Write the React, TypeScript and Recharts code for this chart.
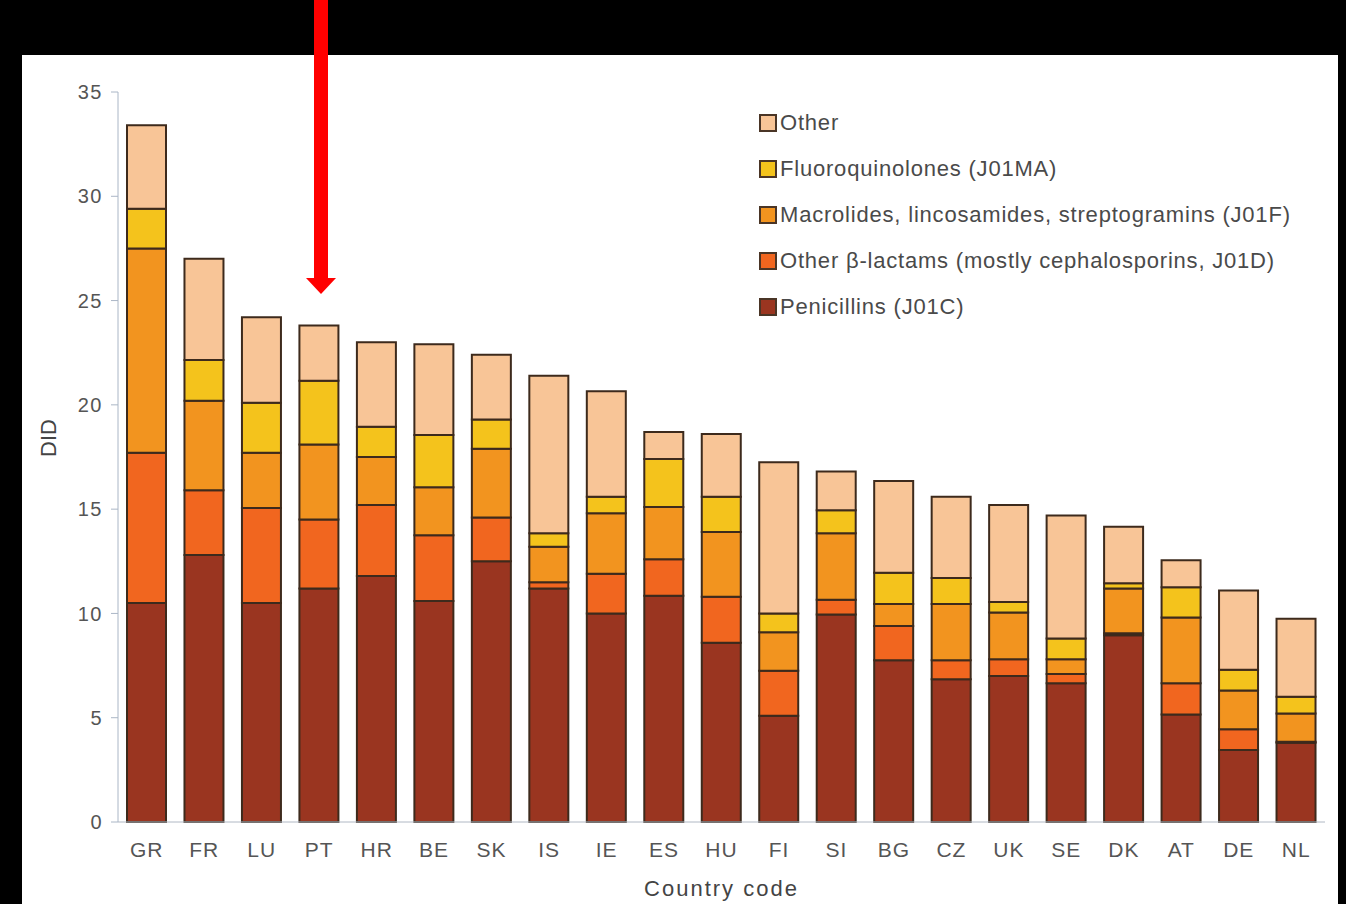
import React from 'react';
import { BarChart, Bar, XAxis, YAxis, Legend } from 'recharts';

const countries = ['GR', 'FR', 'LU', 'PT', 'HR', 'BE', 'SK', 'IS', 'IE', 'ES', 'HU', 'FI', 'SI', 'BG', 'CZ', 'UK', 'SE', 'DK', 'AT', 'DE', 'NL'];
const penicillins = [10.5, 12.8, 10.5, 11.2, 11.8, 10.6, 12.5, 11.2, 10.0, 10.85, 8.6, 5.1, 9.95, 7.75, 6.85, 7.0, 6.65, 8.95, 5.15, 3.45, 3.8];
const otherBetaLactams = [7.2, 3.1, 4.55, 3.3, 3.4, 3.15, 2.1, 0.3, 1.9, 1.75, 2.2, 2.15, 0.7, 1.65, 0.9, 0.8, 0.45, 0.1, 1.5, 1.0, 0.05];
const macrolides = [9.8, 4.3, 2.65, 3.6, 2.3, 2.3, 3.3, 1.7, 2.9, 2.5, 3.1, 1.85, 3.2, 1.05, 2.7, 2.25, 0.7, 2.15, 3.15, 1.85, 1.35];
const fluoroquinolones = [1.9, 1.95, 2.4, 3.05, 1.45, 2.5, 1.4, 0.65, 0.8, 2.3, 1.7, 0.9, 1.1, 1.5, 1.25, 0.5, 1.0, 0.25, 1.45, 1.0, 0.8];
const other = [4.0, 4.85, 4.1, 2.65, 4.05, 4.35, 3.1, 7.55, 5.05, 1.3, 3.0, 7.25, 1.85, 4.4, 3.9, 4.65, 5.9, 2.7, 1.3, 3.8, 3.75];
const yTicks = [0, 5, 10, 15, 20, 25, 30, 35];

const data = countries.map((c, i) => ({
  country: c,
  pen: penicillins[i],
  beta: otherBetaLactams[i],
  mac: macrolides[i],
  fq: fluoroquinolones[i],
  other: other[i],
}));

const series = [
  { key: 'pen', name: 'Penicillins (J01C)', color: '#9a3520' },
  { key: 'beta', name: 'Other \u03b2-lactams (mostly cephalosporins, J01D)', color: '#f1661f' },
  { key: 'mac', name: 'Macrolides, lincosamides, streptogramins (J01F)', color: '#f2941f' },
  { key: 'fq', name: 'Fluoroquinolones (J01MA)', color: '#f4c31c' },
  { key: 'other', name: 'Other', color: '#f8c597' },
];

const font = '"Liberation Sans", Arial, sans-serif';

const LegendBox = () => (
  <div style={{ fontFamily: font, fontSize: 22, color: '#4a4a4a', letterSpacing: 0.8, whiteSpace: 'nowrap' }}>
    {[...series].reverse().map((s) => (
      <div key={s.key} style={{ display: 'flex', alignItems: 'center', height: 46 }}>
        <span
          style={{
            display: 'inline-block',
            width: 14,
            height: 14,
            background: s.color,
            border: '2px solid #4a3526',
            marginRight: 3,
          }}
        />
        {s.name}
      </div>
    ))}
  </div>
);

export default function App() {
  return (
    <div style={{ position: 'absolute', left: 0, top: 0, width: 1346, height: 904, background: '#000', overflow: 'hidden' }}>
      <div style={{ position: 'absolute', left: 22, top: 55, width: 1316, height: 860, background: '#fff' }} />
      <div style={{ position: 'absolute', left: 0, top: 0 }}>
        <BarChart width={1346} height={904} data={data} margin={{ top: 92, right: 21, bottom: 0, left: 0 }} barSize={39}>
          <XAxis
            dataKey="country"
            height={82}
            tickLine={false}
            tickSize={0}
            tickMargin={20}
            stroke="#b0b8c4"
            tick={{ fill: '#555', fontSize: 21, fontFamily: font, letterSpacing: 1 }}
            label={{ value: 'Country code', position: 'insideBottom', offset: 8, fill: '#444', fontSize: 22, fontFamily: font, letterSpacing: 2 }}
          />
          <YAxis
            width={118}
            domain={[0, 35]}
            ticks={yTicks}
            interval={0}
            tickSize={7}
            tickMargin={8}
            stroke="#aab6c6"
            tick={{ fill: '#555', fontSize: 20, fontFamily: font, letterSpacing: 1.5 }}
            label={{ value: 'DID', angle: -90, position: 'insideLeft', offset: 48, fill: '#444', fontSize: 22, fontFamily: font }}
          />
          <Legend
            layout="horizontal"
            verticalAlign="middle"
            align="center"
            content={() => <LegendBox />}
            wrapperStyle={{ left: 759, top: 100, width: 580 }}
          />
          {series.map((s) => (
            <Bar
              key={s.key}
              dataKey={s.key}
              name={s.name}
              stackId="a"
              fill={s.color}
              stroke="#3d2a1c"
              strokeWidth={2}
              isAnimationActive={false}
            />
          ))}
        </BarChart>
      </div>
      <svg style={{ position: 'absolute', left: 0, top: 0 }} width={1346} height={904}>
        <rect x={314} y={0} width={14} height={280} fill="#f00" />
        <polygon points="306,278 336,278 321,294" fill="#f00" />
      </svg>
    </div>
  );
}
